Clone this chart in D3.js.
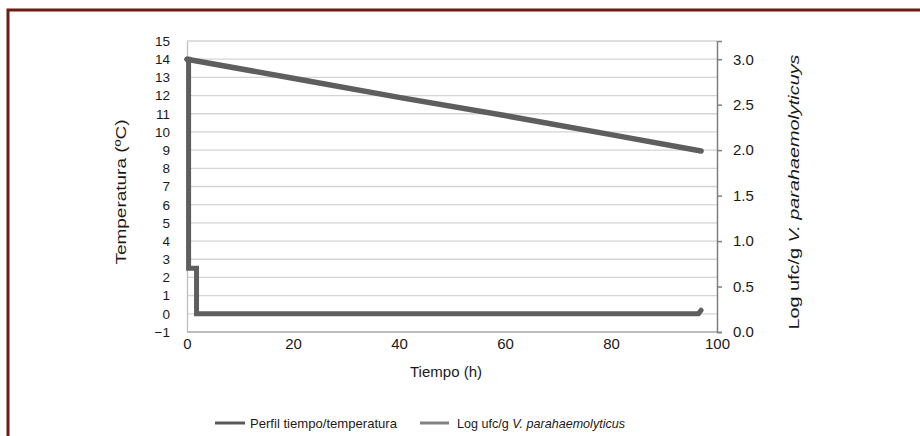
<!DOCTYPE html>
<meta charset="utf-8">
<script src="https://d3js.org/d3.v7.min.js"></script>
<style>
  body { margin: 0; background: #fff; }
  text { font-family: "Liberation Sans Narrow", "Liberation Sans", Arial, sans-serif; fill: #1a1a1a; }
</style>
<body>
<div id="my_dataviz"></div>
<script>
  // temperature profile (left axis)
  const tempTime = [0, 0.3, 0.3, 1.8, 1.8, 96.5, 97];
  const tempValues = [14, 14, 2.5, 2.5, 0, 0, 0.2];
  // log ufc/g (right axis)
  const logTime = [0, 20, 40, 60, 80, 97];
  const logValues = [3.0, 2.79, 2.58, 2.38, 2.17, 1.99];

  const xTicks = [0, 20, 40, 60, 80, 100];
  const leftTicks = d3.range(-1, 16);
  const rightTicks = [0, 0.5, 1.0, 1.5, 2.0, 2.5, 3.0];
  const seriesNames = ["Perfil tiempo/temperatura", "Log ufc/g "];

  const W = 920, H = 436;
  const plot = {left: 187, right: 717, top: 41, bottom: 332};

  const svg = d3.select("#my_dataviz").append("svg")
    .attr("width", W).attr("height", H);

  // frame
  svg.append("path")
    .attr("d", `M8,436 L8,10 L920,10`)
    .attr("fill", "none").attr("stroke", "#6b1d12").attr("stroke-width", 3);

  const x = d3.scaleLinear().domain([0, 100]).range([plot.left, plot.right]);
  const yL = d3.scaleLinear().domain([-1, 15]).range([plot.bottom, plot.top]);
  const yR = d3.scaleLinear().domain([0, 3.2]).range([plot.bottom, plot.top]);

  // gridlines
  svg.append("g").selectAll("line").data(leftTicks).enter().append("line")
    .attr("x1", plot.left).attr("x2", plot.right)
    .attr("y1", d => yL(d)).attr("y2", d => yL(d))
    .attr("stroke", d => d === -1 ? "#a6a6a6" : "#d4d4d4").attr("stroke-width", 1.3);

  // left axis
  const gL = svg.append("g").attr("transform", `translate(${plot.left},0)`)
    .call(d3.axisLeft(yL).tickValues(leftTicks).tickSize(0).tickPadding(17));
  gL.select(".domain").attr("stroke", "#bfbfbf").attr("stroke-width", 1.3);
  gL.selectAll("text").style("font-size", "13.5px").attr("fill", "#1a1a1a");

  // right axis
  const gR = svg.append("g").attr("transform", `translate(${plot.right},0)`)
    .call(d3.axisRight(yR).tickValues(rightTicks).tickSize(5).tickPadding(11)
      .tickFormat(d3.format(".1f")));
  gR.select(".domain").attr("stroke", "#7f7f7f").attr("stroke-width", 1.5);
  gR.selectAll("line").attr("stroke", "#7f7f7f").attr("stroke-width", 1.5);
  gR.selectAll("text").style("font-size", "15px").attr("fill", "#1a1a1a")
    .style("font-family", "'Liberation Sans', Arial, sans-serif");

  // bottom axis labels
  const gB = svg.append("g").attr("transform", `translate(0,${plot.bottom})`)
    .call(d3.axisBottom(x).tickValues(xTicks).tickSize(0).tickPadding(6));
  gB.select(".domain").remove();
  gB.selectAll("text").style("font-size", "15px").attr("fill", "#1a1a1a")
    .style("font-family", "'Liberation Sans', Arial, sans-serif");

  // series
  const tempLine = d3.line().x((d, i) => x(tempTime[i])).y(d => yL(d));
  const logLine = d3.line().x((d, i) => x(logTime[i])).y(d => yR(d));

  svg.append("path").datum(logValues).attr("d", logLine)
    .attr("fill", "none").attr("stroke", "#5e5e5e").attr("stroke-width", 5.5)
    .attr("stroke-linecap", "round");
  svg.append("path").datum(tempValues).attr("d", tempLine)
    .attr("fill", "none").attr("stroke", "#5e5e5e").attr("stroke-width", 5)
    .attr("stroke-linecap", "round").attr("stroke-linejoin", "miter");

  // axis titles
  svg.append("text")
    .attr("transform", `translate(126,192) rotate(-90)`)
    .attr("text-anchor", "middle").style("font-size", "15px")
    .attr("textLength", 145).attr("lengthAdjust", "spacingAndGlyphs")
    .text("Temperatura (ºC)");

  svg.append("text")
    .attr("x", 446).attr("y", 377).attr("text-anchor", "middle")
    .style("font-size", "15px").text("Tiempo (h)");

  const rt = svg.append("text")
    .attr("transform", `translate(799,192) rotate(-90)`)
    .attr("text-anchor", "middle").style("font-size", "15px")
    .attr("textLength", 275).attr("lengthAdjust", "spacingAndGlyphs");
  rt.append("tspan").text("Log ufc/g ");
  rt.append("tspan").style("font-style", "italic").text("V. parahaemolyticuys");

  // legend
  const leg = svg.append("g");
  leg.append("line").attr("x1", 215).attr("x2", 245).attr("y1", 423).attr("y2", 423)
    .attr("stroke", "#595959").attr("stroke-width", 3);
  leg.append("text").attr("x", 250).attr("y", 427.5).style("font-size", "13.5px")
    .attr("textLength", 147).attr("lengthAdjust", "spacingAndGlyphs")
    .text(seriesNames[0]);
  leg.append("line").attr("x1", 420).attr("x2", 449).attr("y1", 423).attr("y2", 423)
    .attr("stroke", "#828282").attr("stroke-width", 3);
  const lt = leg.append("text").attr("x", 457).attr("y", 427.5).style("font-size", "13.5px")
    .attr("textLength", 168).attr("lengthAdjust", "spacingAndGlyphs");
  lt.append("tspan").text(seriesNames[1]);
  lt.append("tspan").style("font-style", "italic").text("V. parahaemolyticus");
</script>
</body>
